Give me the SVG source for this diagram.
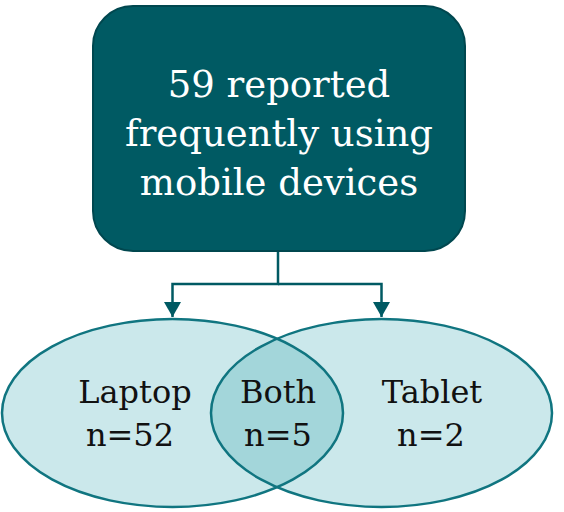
<svg xmlns="http://www.w3.org/2000/svg" width="564" height="512" viewBox="0 0 564 512">
<style>
.box{fill:#005A63;stroke:#00474F;stroke-width:2}
.set{fill:#CBE8EB;stroke:none}
.lens{fill:#A3D6DA;stroke:none}
.outline{fill:none;stroke:#107580;stroke-width:2.5}
.conn{fill:none;stroke:#005A63;stroke-width:2.5}
.t{font-family:"DejaVu Serif","Liberation Serif",serif;text-anchor:middle}
.top{fill:#FFFFFF;font-size:37px}
.lbl{fill:#111111;font-size:32px}
</style>
<defs>
<marker id="arr" markerWidth="16" markerHeight="17" refX="15" refY="8.5" orient="auto" markerUnits="userSpaceOnUse">
<path d="M0,0 L15,8.5 L0,17 Z" fill="#005A63"/>
</marker>
</defs>
<g id="connectors">
<path class="conn" d="M278,251 V284 H172.5 V317" marker-end="url(#arr)"/>
<path class="conn" d="M278,284 H381.5 V317" marker-end="url(#arr)"/>
</g>
<g id="venn-fill">
<ellipse class="set" cx="172.5" cy="413" rx="170.5" ry="94"/>
<ellipse class="set" cx="381.5" cy="413" rx="170.5" ry="94"/>
<path class="lens" d="M277,338.7 A170.5,94 0 0 1 277,487.3 A170.5,94 0 0 1 277,338.7 Z"/>
</g>
<g id="laptop">
<ellipse class="outline" cx="172.5" cy="413" rx="170.5" ry="94"/>
<text class="t lbl" x="135" y="403">Laptop</text>
<text class="t lbl" x="130" y="446">n=52</text>
</g>
<g id="tablet">
<ellipse class="outline" cx="381.5" cy="413" rx="170.5" ry="94"/>
<text class="t lbl" x="432" y="403">Tablet</text>
<text class="t lbl" x="431" y="446">n=2</text>
</g>
<g id="both">
<text class="t lbl" x="278" y="403">Both</text>
<text class="t lbl" x="278" y="446">n=5</text>
</g>
<g id="total">
<rect class="box" x="93" y="6" width="372" height="245" rx="40" ry="40"/>
<text class="t top" x="279" y="97">59 reported</text>
<text class="t top" x="279" y="146">frequently using</text>
<text class="t top" x="279" y="195">mobile devices</text>
</g>
</svg>
